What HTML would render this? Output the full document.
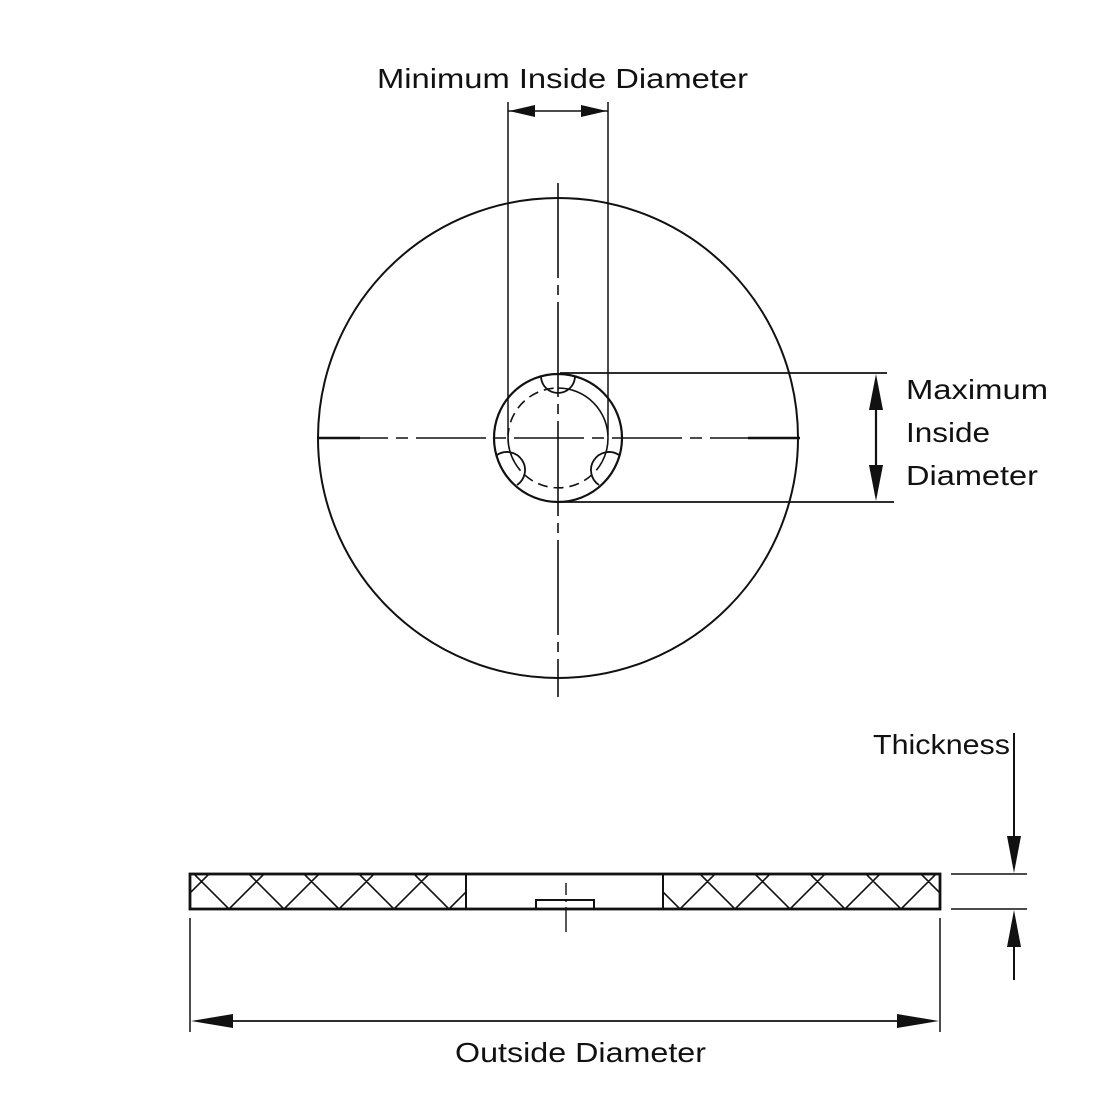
<!DOCTYPE html>
<html><head><style>html,body{margin:0;padding:0;background:#fff}</style></head>
<body>
<svg width="1100" height="1100" viewBox="0 0 1100 1100" xmlns="http://www.w3.org/2000/svg">
<defs>
<clipPath id="cl"><rect x="191" y="875" width="274" height="33"/></clipPath>
<clipPath id="cr"><rect x="664" y="875" width="275" height="33"/></clipPath>
</defs>
<rect width="1100" height="1100" fill="#fff"/>
<g font-family="'Liberation Sans', sans-serif" font-size="28" fill="#111">
<text x="377" y="88" textLength="371" lengthAdjust="spacingAndGlyphs">Minimum Inside Diameter</text>
<text x="906" y="399" textLength="142" lengthAdjust="spacingAndGlyphs">Maximum</text>
<text x="906" y="442" textLength="84" lengthAdjust="spacingAndGlyphs">Inside</text>
<text x="906" y="485" textLength="132" lengthAdjust="spacingAndGlyphs">Diameter</text>
<text x="873" y="754" textLength="137" lengthAdjust="spacingAndGlyphs">Thickness</text>
<text x="455" y="1062" textLength="251" lengthAdjust="spacingAndGlyphs">Outside Diameter</text>
</g>
<g stroke="#111" fill="none" stroke-width="1.8">
<!-- big circle -->
<circle cx="558" cy="438" r="240" stroke-width="2"/>
<!-- hole -->
<circle cx="558" cy="438" r="64" stroke-width="2.2"/>
<path d="M558 388 A50 50 0 0 1 608 438" stroke-width="1.6"/>
<path d="M608 438 A50 50 0 0 1 602 462" stroke-width="1.6"/>
<path d="M515 463 A50 50 0 0 1 508 438" stroke-width="1.6"/>
<path d="M508 438 A50 50 0 0 1 558 388" stroke-width="1.6" stroke-dasharray="10 6"/>
<path d="M602 462 A50 50 0 0 1 515 463" stroke-width="1.6" stroke-dasharray="10 6"/>
<!-- cutouts -->
<path d="M541 376 A17 17 0 0 0 575 376" stroke-width="1.8"/>
<path d="M497 455 A17 17 0 0 1 517 485" stroke-width="1.8"/>
<path d="M619 455 A17 17 0 0 0 599 485" stroke-width="1.8"/>
<!-- center lines -->
<line x1="558" y1="183" x2="558" y2="697" stroke-width="1.6" stroke-dasharray="95 7 10 7"/>
<line x1="318" y1="438" x2="800" y2="438" stroke-width="1.6" stroke-dasharray="70 8 12 8"/>
<line x1="318" y1="438" x2="360" y2="438" stroke-width="2.6"/>
<line x1="748" y1="438" x2="800" y2="438" stroke-width="2.6"/>
<!-- min ID dim -->
<line x1="508" y1="102" x2="508" y2="435" stroke-width="1.5"/>
<line x1="608" y1="102" x2="608" y2="435" stroke-width="1.5"/>
<line x1="508" y1="111" x2="608" y2="111" stroke-width="1.5"/>
<!-- max ID dim -->
<line x1="560" y1="373" x2="887" y2="373"/>
<line x1="560" y1="502" x2="894" y2="502"/>
<line x1="876" y1="380" x2="876" y2="496" stroke-width="2.2"/>
<!-- side view -->
<rect x="190" y="874" width="750" height="35" stroke-width="2.8"/>
<line x1="466" y1="874" x2="466" y2="909" stroke-width="2"/>
<line x1="663" y1="874" x2="663" y2="909" stroke-width="2"/>
<rect x="536" y="900" width="58" height="9" stroke-width="2"/>
<line x1="566" y1="883" x2="566" y2="932" stroke-width="1.4" stroke-dasharray="12 5 2 5 30 0"/>
<g stroke-width="1.6" clip-path="url(#cl)">
<path d="M139 874 L174 909 L209 874 M194 874 L229 909 L264 874 M249 874 L284 909 L319 874 M304 874 L339 909 L374 874 M359 874 L394 909 L429 874 M414 874 L449 909 L484 874 M469 874 L504 909 L539 874"/>
</g>
<g stroke-width="1.6" clip-path="url(#cr)">
<path d="M590 874 L625 909 L660 874 M645 874 L680 909 L715 874 M700 874 L735 909 L770 874 M755 874 L790 909 L825 874 M810 874 L845 909 L880 874 M866 874 L901 909 L936 874 M921 874 L956 909 L991 874"/>
</g>
<!-- thickness dim -->
<line x1="951" y1="874" x2="1027" y2="874" stroke-width="1.6"/>
<line x1="951" y1="909" x2="1027" y2="909" stroke-width="1.6"/>
<line x1="1014" y1="733" x2="1014" y2="850" stroke-width="2"/>
<line x1="1014" y1="935" x2="1014" y2="980" stroke-width="2"/>
<!-- OD dim -->
<line x1="190" y1="918" x2="190" y2="1032" stroke-width="1.5"/>
<line x1="940" y1="918" x2="940" y2="1032" stroke-width="1.5"/>
<line x1="200" y1="1021" x2="930" y2="1021" stroke-width="1.8"/>
</g>
<g fill="#111">
<polygon points="509,111 535,105 535,117"/>
<polygon points="607,111 581,105 581,117"/>
<polygon points="876,374 869,410 883,410"/>
<polygon points="876,501 869,465 883,465"/>
<polygon points="1014,873 1007,836 1021,836"/>
<polygon points="1014,910 1007,947 1021,947"/>
<polygon points="191,1021 233,1014 233,1028"/>
<polygon points="939,1021 897,1014 897,1028"/>
</g>
</svg>
</body></html>
